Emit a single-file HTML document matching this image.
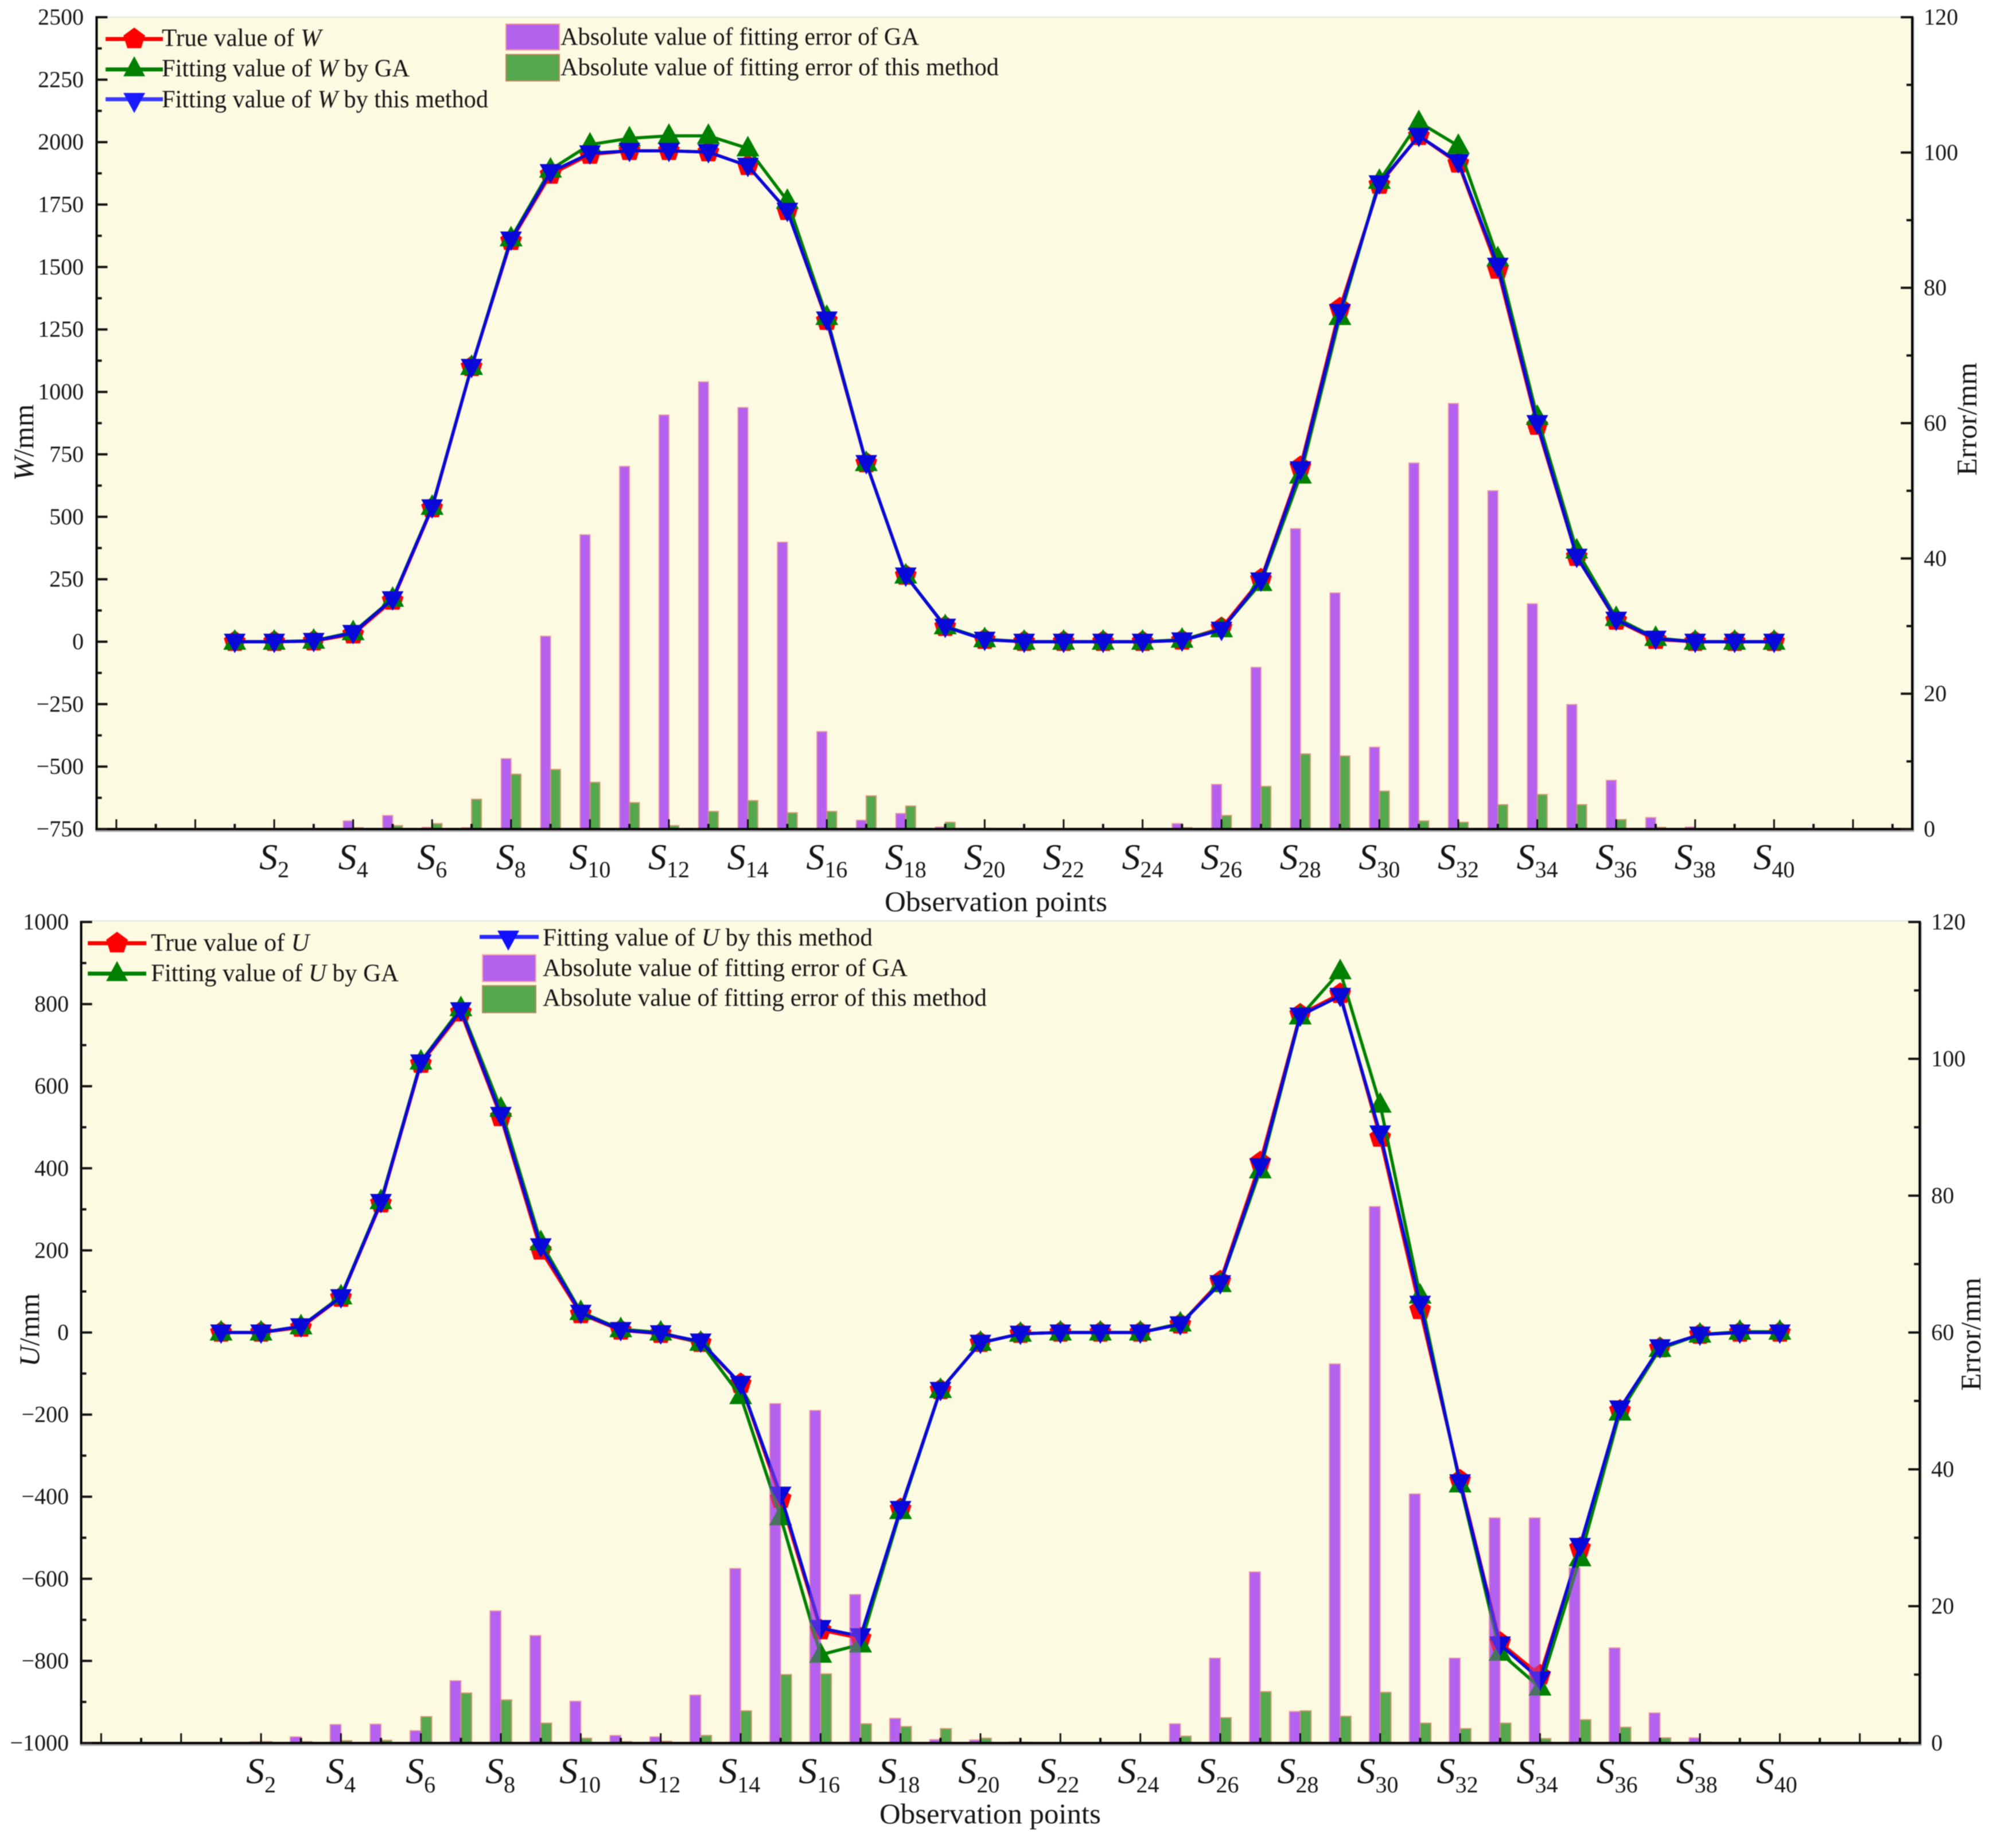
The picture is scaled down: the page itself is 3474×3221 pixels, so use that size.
<!DOCTYPE html>
<html lang="en">
<head>
<meta charset="utf-8">
<title>True and fitted values of W and U with fitting errors</title>
<style>
html,body{margin:0;padding:0;background:#fff;}
svg{display:block;font-family:"Liberation Serif",serif;filter:blur(0.8px);}
text{fill:#151515;}
</style>
</head>
<body>
<svg id="figure" xmlns="http://www.w3.org/2000/svg" width="3474" height="3221" viewBox="0 0 3474 3221">
  <rect x="0" y="0" width="3474" height="3221" fill="#ffffff"/>
  <g id="chart-w"></g>
  <g id="chart-u"></g>

  <g>
    <text x="1542" y="1588" font-size="50" textLength="388" lengthAdjust="spacingAndGlyphs">Observation points</text>
    <text x="1533" y="3178" font-size="50" textLength="386" lengthAdjust="spacingAndGlyphs">Observation points</text>
    <text transform="translate(58,838) rotate(-90)" font-size="50"><tspan font-style="italic">W</tspan>/mm</text>
    <text transform="translate(68,2382) rotate(-90)" font-size="50"><tspan font-style="italic">U</tspan>/mm</text>
    <text transform="translate(3445,829) rotate(-90)" font-size="50">Error/mm</text>
    <text transform="translate(3452,2424) rotate(-90)" font-size="50">Error/mm</text>
  </g>

  <g font-size="43">
    <g>
      <line x1="184" y1="68" x2="284" y2="68" stroke="#ff0000" stroke-width="7"/>
      <polygon points="234,48 253,62 246,84 222,84 215,62" fill="#ff0000"/>
      <text x="282" y="80" textLength="278" lengthAdjust="spacingAndGlyphs">True value of <tspan font-style="italic">W</tspan></text>
    </g>
    <g>
      <line x1="184" y1="121" x2="284" y2="121" stroke="#008000" stroke-width="7"/>
      <polygon points="234,98 215,133 253,133" fill="#008000"/>
      <text x="282" y="133" textLength="432" lengthAdjust="spacingAndGlyphs">Fitting value of <tspan font-style="italic">W</tspan> by GA</text>
    </g>
    <g>
      <line x1="184" y1="173" x2="284" y2="173" stroke="#3a3aff" stroke-width="7"/>
      <polygon points="215,162 253,162 234,197" fill="#1a1aff"/>
      <text x="282" y="187" textLength="569" lengthAdjust="spacingAndGlyphs">Fitting value of <tspan font-style="italic">W</tspan> by this method</text>
    </g>
    <g>
      <rect x="882" y="42" width="93" height="45" fill="#b362ee" stroke="#f09a9a" stroke-width="2"/>
      <text x="977" y="78" textLength="625" lengthAdjust="spacingAndGlyphs">Absolute value of fitting error of GA</text>
    </g>
    <g>
      <rect x="882" y="95" width="93" height="46" fill="#55a74e" stroke="#c08a60" stroke-width="2"/>
      <text x="977" y="131" textLength="764" lengthAdjust="spacingAndGlyphs">Absolute value of fitting error of this method</text>
    </g>
  </g>

  <g font-size="43">
    <g>
      <line x1="153" y1="1644" x2="255" y2="1644" stroke="#ff0000" stroke-width="7"/>
      <polygon points="204,1624 223,1638 216,1660 192,1660 185,1638" fill="#ff0000"/>
      <text x="263" y="1657" textLength="276" lengthAdjust="spacingAndGlyphs">True value of <tspan font-style="italic">U</tspan></text>
    </g>
    <g>
      <line x1="153" y1="1697" x2="255" y2="1697" stroke="#008000" stroke-width="7"/>
      <polygon points="204,1675 185,1710 223,1710" fill="#008000"/>
      <text x="263" y="1710" textLength="432" lengthAdjust="spacingAndGlyphs">Fitting value of <tspan font-style="italic">U</tspan> by GA</text>
    </g>
    <g>
      <line x1="836" y1="1633" x2="939" y2="1633" stroke="#2a2aff" stroke-width="7"/>
      <polygon points="867,1622 905,1622 886,1657" fill="#1010ff"/>
      <text x="946" y="1648" textLength="575" lengthAdjust="spacingAndGlyphs">Fitting value of <tspan font-style="italic">U</tspan> by this method</text>
    </g>
    <g>
      <rect x="841" y="1664" width="93" height="47" fill="#b362ee" stroke="#f8b0a8" stroke-width="2"/>
      <text x="946" y="1701" textLength="636" lengthAdjust="spacingAndGlyphs">Absolute value of fitting error of GA</text>
    </g>
    <g>
      <rect x="841" y="1718" width="93" height="47" fill="#55a74e" stroke="#b88a60" stroke-width="2"/>
      <text x="946" y="1753" textLength="774" lengthAdjust="spacingAndGlyphs">Absolute value of fitting error of this method</text>
    </g>
  </g>
</svg>

<script>
// Observation points S1..S40
const points = [1,2,3,4,5,6,7,8,9,10,11,12,13,14,15,16,17,18,19,20,21,22,23,24,25,26,27,28,29,30,31,32,33,34,35,36,37,38,39,40];

// Top chart: W values (mm)
const trueW = [0,0,2,30,165,535,1100,1605,1870,1950,1965,1965,1960,1905,1725,1285,715,265,60,8,0,0,0,0,5,55,250,700,1335,1830,2025,1915,1490,865,340,85,8,0,0,0];
const gaW = [0,0,4,38,172,540,1100,1615,1890,1990,2015,2025,2025,1975,1765,1300,715,265,62,10,0,0,0,0,8,50,235,665,1300,1845,2080,1985,1535,900,365,95,15,0,0,0];
const methodW = [0,0,3,35,170,538,1100,1610,1880,1955,1965,1965,1960,1905,1725,1290,715,265,60,8,0,0,0,0,5,48,245,690,1320,1835,2025,1920,1505,875,340,88,12,0,0,0];
const errorGaW = [0,0,0.1,1.2,2,0.25,0.2,10.4,28.5,43.5,53.6,61.2,66.1,62.3,42.4,14.4,1.3,2.3,0.3,0.1,0,0,0,0.1,0.8,6.6,23.9,44.4,34.9,12.1,54.1,62.9,50,33.3,18.4,7.2,1.7,0.3,0,0];
const errorMethodW = [0,0,0,0.2,0.5,0.8,4.4,8.1,8.8,6.9,3.9,0.5,2.6,4.2,2.4,2.6,4.9,3.4,1,0.1,0,0,0,0,0.2,2,6.3,11.1,10.8,5.6,1.2,1,3.6,5.1,3.6,1.4,0.25,0,0,0];
const leftTicksW = [2500,2250,2000,1750,1500,1250,1000,750,500,250,0,-250,-500,-750];

// Bottom chart: U values (mm)
const trueU = [0,0,12,85,315,655,780,525,200,45,5,-3,-25,-125,-405,-725,-745,-430,-140,-25,-3,0,0,0,20,125,415,775,825,475,55,-360,-755,-835,-525,-190,-38,-5,0,0];
const gaU = [0,0,15,88,320,660,790,545,220,50,8,0,-25,-155,-450,-785,-760,-435,-140,-25,-3,0,0,0,22,118,395,770,880,555,90,-370,-780,-865,-550,-195,-40,-5,2,2];
const methodU = [0,0,15,86,318,658,785,530,210,48,6,-2,-22,-125,-395,-720,-740,-430,-140,-25,-3,0,0,0,20,120,405,772,820,485,70,-365,-760,-845,-520,-185,-36,-5,0,0];
const errorGaU = [0,0.2,0.9,2.7,2.75,1.8,9.1,19.3,15.7,6.1,1.1,0.9,7,25.5,49.6,48.6,21.7,3.6,0.5,0.45,0.15,0,0,0.1,2.8,12.4,25,4.6,55.4,78.4,36.4,12.4,32.9,32.9,25.6,13.9,4.4,0.75,0,0];
const errorMethodU = [0,0.2,0.2,0.35,0.4,3.85,7.3,6.3,2.9,0.7,0.2,0.25,1.1,4.7,10,10.1,2.8,2.4,2.1,0.7,0.1,0,0,0,1,3.7,7.5,4.7,3.9,7.4,2.9,2.1,2.9,0.65,3.4,2.3,0.75,0.1,0,0];
const leftTicksU = [1000,800,600,400,200,0,-200,-400,-600,-800,-1000];

// Shared tick labels
const rightTicks = [0,20,40,60,80,100,120];
const xTickValues = [-2,-1,0,1,2,3,4,5,6,7,8,9,10,11,12,13,14,15,16,17,18,19,20,21,22,23,24,25,26,27,28,29,30,31,32,33,34,35,36,37,38,39,40,41,42,43];
const xLabelValues = [2,4,6,8,10,12,14,16,18,20,22,24,26,28,30,32,34,36,38,40];

const NS = 'http://www.w3.org/2000/svg';
function mk(parent, tag, attrs) {
  const el = document.createElementNS(NS, tag);
  for (const k in attrs) el.setAttribute(k, attrs[k]);
  parent.appendChild(el);
  return el;
}
function fmt(v) { return v < 0 ? '\u2212' + Math.abs(v) : String(v); }

function drawChart(cfg) {
  const root = document.getElementById(cfg.id);
  const xScale = n => cfg.x2 + (n - 2) * cfg.step;
  const yL = v => cfg.yTop + (cfg.leftMax - v) * (cfg.yBottom - cfg.yTop) / (cfg.leftMax - cfg.leftMin);
  const yR = v => cfg.yBottom - v * (cfg.yBottom - cfg.yTop) / 120;
  const left = xScale(-2.5), right = xScale(43.5);

  const bg = mk(root, 'rect', {x:left, y:cfg.bgTop, width:right-left, height:cfg.yBottom-cfg.bgTop, fill:'#fdfae2'});
  
  
  const topLine = mk(root, 'line', {x1:left, y1:cfg.bgTop, x2:right, y2:cfg.bgTop, stroke:'#e4e2da', 'stroke-width':2});
  
  

  function drawBars(list, shift, fill, stroke, namePrefix, opacity) {
    list.forEach((v, i) => {
      if (v <= 0) return;
      const n = points[i];
      const bx = xScale(n) + shift;
      const r = mk(root, 'rect', {x:bx, y:yR(v), width:cfg.barW, height:cfg.yBottom-yR(v), fill:fill, stroke:stroke, 'stroke-width':2, opacity:opacity});
      
      
    });
  }
  drawBars(cfg.errGa, -cfg.barW, '#b362ee', '#f4a3a0', 'bar-error-ga', 1);
  drawBars(cfg.errMethod, 0, '#55a74e', '#d09a70', 'bar-error-method', 1);

  // Lines and markers
  function marker(shape, x, y) {
    if (shape === 'pentagon') {
      return [[x,y-20],[x+19,y-6],[x+12,y+16],[x-12,y+16],[x-19,y-6]].map(p => p.join(',')).join(' ');
    }
    if (shape === 'up') {
      return [[x,y-22],[x-20,y+14],[x+20,y+14]].map(p => p.join(',')).join(' ');
    }
    return [[x-19,y-14],[x+19,y-14],[x,y+20]].map(p => p.join(',')).join(' ');
  }
  function drawSeries(values, color, shape, name) {
    const path = values.map((v, i) => xScale(points[i]) + ',' + yL(v)).join(' ');
    const line = mk(root, 'polyline', {points:path, fill:'none', stroke:color, 'stroke-width':5.5, 'stroke-linejoin':'round'});
    
    
    values.forEach((v, i) => {
      const pt = mk(root, 'polygon', {points:marker(shape, xScale(points[i]), yL(v)), fill:color});
      
      
    });
  }
  drawSeries(cfg.trueVals, '#ff0000', 'pentagon', 'true');
  drawSeries(cfg.gaVals, '#008000', 'up', 'ga');
  drawSeries(cfg.methodVals, '#0808d8', 'down', 'method');

  // Translucent overlay of the error bars: they tint markers that cross them
  drawBars(cfg.errGa, -cfg.barW, '#b362ee', 'none', 'bar-overlay-error-ga', 0.4);

  // Axes
  const leftAxis = mk(root, 'line', {x1:left, y1:cfg.yTop-2, x2:left, y2:cfg.yBottom+4, stroke:'#000', 'stroke-width':4});
  
  
  const rightShadow = mk(root, 'line', {x1:right+2, y1:cfg.yTop, x2:right+2, y2:cfg.yBottom+4, stroke:'#aaa', 'stroke-width':3});
  
  
  const rightAxis = mk(root, 'line', {x1:right, y1:cfg.yTop-2, x2:right, y2:cfg.yBottom+4, stroke:'#000', 'stroke-width':4});
  
  
  const bottomShadow = mk(root, 'line', {x1:left-2, y1:cfg.yBottom+3, x2:right+3, y2:cfg.yBottom+3, stroke:'#aaa', 'stroke-width':4});
  
  
  const bottomAxis = mk(root, 'line', {x1:left-2, y1:cfg.yBottom, x2:right+2, y2:cfg.yBottom, stroke:'#000', 'stroke-width':4});
  
  

  // Left ticks (major with labels, minor halfway)
  cfg.leftTicks.forEach((v, i) => {
    const y = yL(v);
    const t = mk(root, 'line', {x1:left, y1:y, x2:left+19, y2:y, stroke:'#111', 'stroke-width':4});
    
    
    const lab = mk(root, 'text', {x:cfg.leftLabelX, y:y+13, 'font-size':40, 'text-anchor':'end'});
    lab.textContent = fmt(v);
    
    
    if (i < cfg.leftTicks.length - 1) {
      const ym = yL((v + cfg.leftTicks[i+1]) / 2);
      const m = mk(root, 'line', {x1:left, y1:ym, x2:left+9, y2:ym, stroke:'#111', 'stroke-width':4});
      
      
    }
  });

  // Right ticks
  rightTicks.forEach((v, i) => {
    const y = yR(v);
    const t = mk(root, 'line', {x1:right-20, y1:y, x2:right, y2:y, stroke:'#111', 'stroke-width':4});
    
    
    const lab = mk(root, 'text', {x:right+20, y:y+13, 'font-size':40});
    lab.textContent = String(v);
    
    
    if (i < rightTicks.length - 1) {
      const ym = yR(v + 10);
      const m = mk(root, 'line', {x1:right-10, y1:ym, x2:right, y2:ym, stroke:'#111', 'stroke-width':4});
      
      
    }
  });

  // Bottom ticks point inward
  xTickValues.forEach(n => {
    const major = n % 2 === 0;
    const x = xScale(n);
    const t = mk(root, 'line', {x1:x, y1:cfg.yBottom, x2:x, y2:cfg.yBottom-(major?17:9), stroke:'#111', 'stroke-width':major?3:4});
    
    
  });

  // Bottom labels: S with subscript
  xLabelValues.forEach(n => {
    const lab = mk(root, 'text', {x:xScale(n) - (n - 2) * cfg.labelDrift, y:cfg.labelY, 'text-anchor':'middle'});
    
    
    const s = mk(lab, 'tspan', {'font-size':64, 'font-style':'italic'});
    s.textContent = 'S';
    const sub = mk(lab, 'tspan', {'font-size':40, dy:cfg.subDy});
    sub.textContent = String(n);
  });
}

drawChart({
  id:'chart-w', x2:478, step:68.8, yTop:30, bgTop:30, yBottom:1445,
  leftMax:2500, leftMin:-750, leftTicks:leftTicksW, leftLabelX:146,
  barW:17.2, labelY:1515, subDy:14, labelDrift:0,
  trueVals:trueW, gaVals:gaW, methodVals:methodW, errGa:errorGaW, errMethod:errorMethodW
});
drawChart({
  id:'chart-u', x2:455, step:69.67, yTop:1607, bgTop:1605, yBottom:3038,
  leftMax:1000, leftMin:-1000, leftTicks:leftTicksU, leftLabelX:120,
  barW:18.8, labelY:3108, subDy:16, labelDrift:0.15,
  trueVals:trueU, gaVals:gaU, methodVals:methodU, errGa:errorGaU, errMethod:errorMethodU
});
</script>
</body>
</html>
